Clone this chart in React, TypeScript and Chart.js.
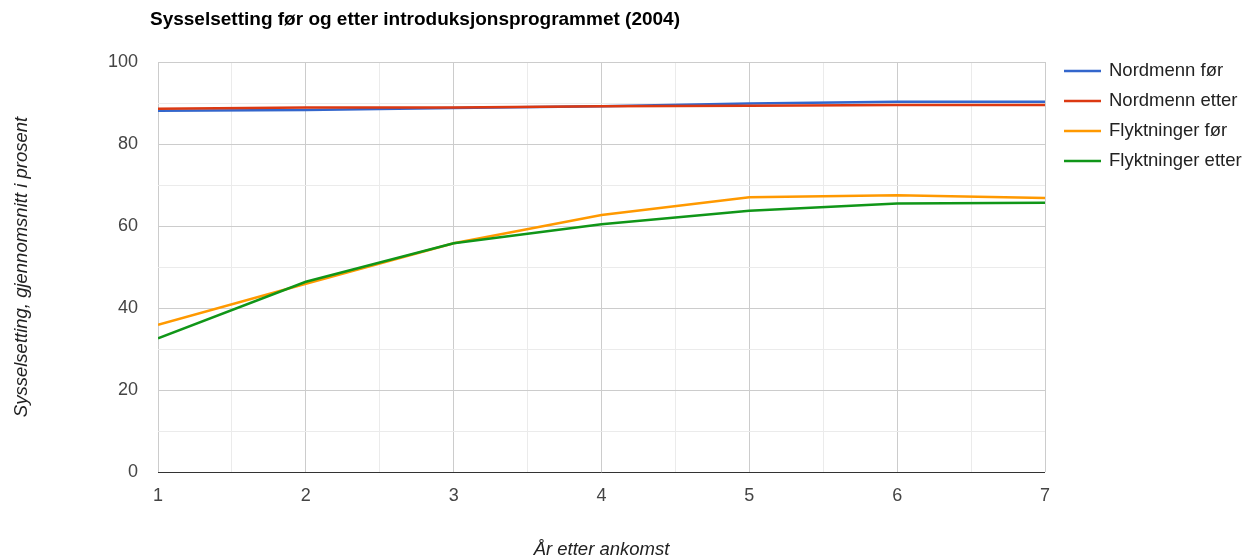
import React, { useEffect, useRef } from "react";
import { Chart, registerables } from "chart.js";

Chart.register(...registerables);

const years = [1, 2, 3, 4, 5, 6, 7];
const nordmennFor = [88.1, 88.3, 88.8, 89.2, 89.9, 90.3, 90.3];
const nordmennEtter = [88.6, 88.9, 88.9, 89.2, 89.3, 89.5, 89.5];
const flyktningerFor = [35.9, 45.9, 55.8, 62.7, 67.0, 67.5, 66.8];
const flyktningerEtter = [32.6, 46.4, 55.8, 60.4, 63.7, 65.5, 65.7];

const seriesNames = ["Nordmenn før", "Nordmenn etter", "Flyktninger før", "Flyktninger etter"];
const seriesColors = ["#3366cc", "#dc3912", "#ff9900", "#109618"];
const seriesValues = [nordmennFor, nordmennEtter, flyktningerFor, flyktningerEtter];

const chartTitle = "Sysselsetting før og etter introduksjonsprogrammet (2004)";
const yTitle = "Sysselsetting, gjennomsnitt i prosent";
const xTitle = "År etter ankomst";

const FONT = "'Liberation Sans', Arial, sans-serif";

const decorPlugin = {
  id: "decor",
  afterDraw(chart: any) {
    const ctx = chart.ctx;
    const area = chart.chartArea;
    ctx.save();
    // Title
    ctx.fillStyle = "#000";
    ctx.font = `bold 19px ${FONT}`;
    ctx.textAlign = "left";
    ctx.textBaseline = "middle";
    ctx.fillText(chartTitle, 150, 20);
    // Y title
    ctx.save();
    ctx.translate(22, (area.top + area.bottom) / 2);
    ctx.rotate(-Math.PI / 2);
    ctx.font = `italic 18.5px ${FONT}`;
    ctx.fillStyle = "#222";
    ctx.textAlign = "center";
    ctx.fillText(yTitle, 0, 0);
    ctx.restore();
    // X title
    ctx.font = `italic 18.5px ${FONT}`;
    ctx.fillStyle = "#222";
    ctx.textAlign = "center";
    ctx.fillText(xTitle, (area.left + area.right) / 2, 550);
    // Legend
    ctx.textAlign = "left";
    ctx.font = `18.5px ${FONT}`;
    seriesNames.forEach((name, i) => {
      const y = 71 + i * 30;
      ctx.strokeStyle = seriesColors[i];
      ctx.lineWidth = 2.5;
      ctx.beginPath();
      ctx.moveTo(1064, y);
      ctx.lineTo(1101, y);
      ctx.stroke();
      ctx.fillStyle = "#222";
      ctx.fillText(name, 1109, y);
    });
    ctx.restore();
  },
};

export default function App() {
  const ref = useRef<HTMLCanvasElement>(null);
  useEffect(() => {
    document.body.style.margin = "0";
    const chart = new Chart(ref.current!, {
      type: "line",
      data: {
        datasets: seriesNames.map((name, i) => ({
          label: name,
          data: years.map((x, j) => ({ x, y: seriesValues[i][j] })),
          borderColor: seriesColors[i],
          backgroundColor: seriesColors[i],
          borderWidth: 2.5,
          pointRadius: 0,
          tension: 0,
          order: 4 - i,
        })),
      },
      options: {
        animation: false,
        responsive: false,
        layout: { padding: { left: 0, top: 62, right: 200, bottom: 0 } },
        plugins: { legend: { display: false }, tooltip: { enabled: false }, title: { display: false } },
        scales: {
          x: {
            type: "linear",
            min: 1,
            max: 7,
            border: { display: false },
            grid: {
              drawTicks: false,
              color: (c: any) => (Number.isInteger(c.tick?.value) ? "#cccccc" : "#ebebeb"),
            },
            ticks: {
              stepSize: 0.5,
              padding: 13,
              color: "#444",
              font: { family: FONT, size: 18 },
              autoSkip: false,
              maxRotation: 0,
              callback: (v: any) => (Number.isInteger(v) ? String(v) : ""),
            },
            afterFit: (s: any) => {
              s.height = 88;
            },
          },
          y: {
            min: 0,
            max: 100,
            border: { display: false },
            grid: {
              drawTicks: false,
              color: (c: any) => (c.tick?.value === 0 ? "#333" : c.tick?.value % 20 === 0 ? "#cccccc" : "#ebebeb"),
            },
            ticks: {
              stepSize: 10,
              padding: 20,
              color: "#444",
              font: { family: FONT, size: 18 },
              autoSkip: false,
              callback: (v: any) => (v % 20 === 0 ? String(v) : ""),
            },
            afterFit: (s: any) => {
              s.width = 158;
            },
          },
        },
      },
      plugins: [decorPlugin],
    } as any);
    return () => chart.destroy();
  }, []);
  return (
    <div style={{ position: "absolute", left: 0, top: 0, width: 1245, height: 560, background: "#fff" }}>
      <canvas ref={ref} width={1245} height={560} style={{ width: 1245, height: 560 }} />
    </div>
  );
}
